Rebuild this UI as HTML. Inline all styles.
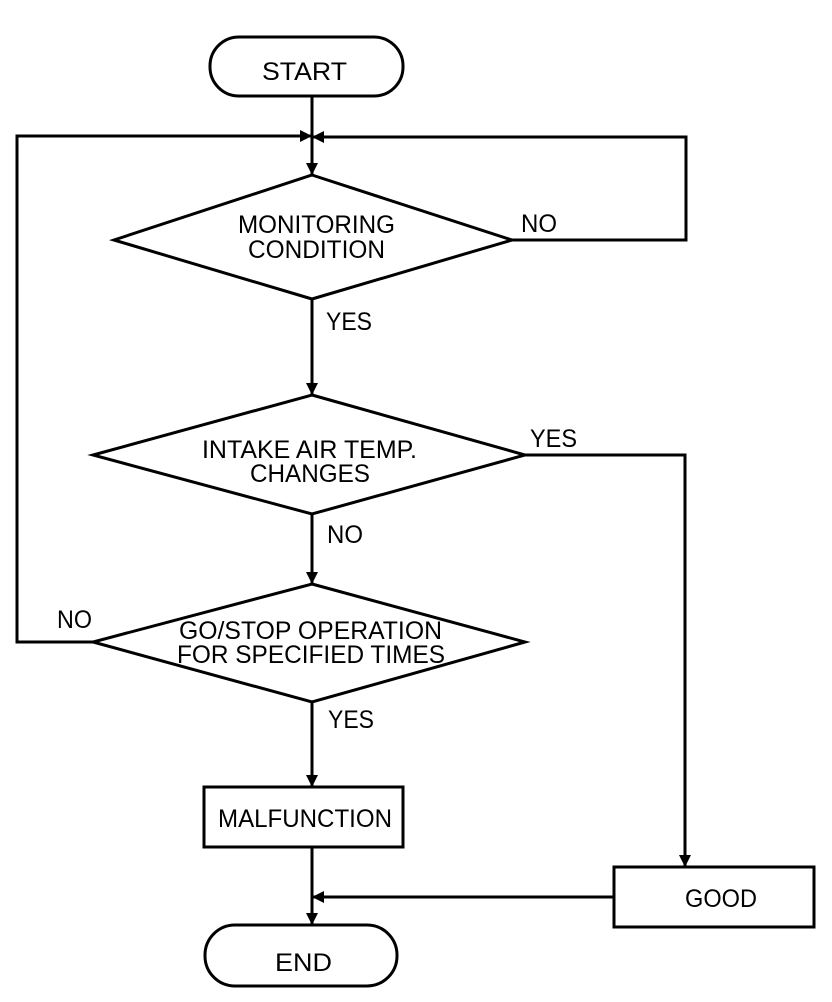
<!DOCTYPE html>
<html><head><meta charset="utf-8"><style>body{margin:0;background:#fff}svg{display:block}text{font-family:"Liberation Sans",sans-serif;font-size:25px;fill:#000}</style></head>
<body>
<svg width="832" height="1002" viewBox="0 0 832 1002">
<defs><marker id="a" markerWidth="12" markerHeight="12" refX="11" refY="6" orient="auto" markerUnits="userSpaceOnUse"><path d="M0,0 L12,6 L0,12 Z" fill="#000"/></marker></defs>
<g fill="none" stroke="#000" stroke-width="3">
<rect x="210" y="37" width="193" height="59" rx="29"/>
<rect x="205" y="925" width="192" height="61" rx="30"/>
<rect x="204" y="787" width="199" height="60"/>
<rect x="614" y="867" width="200" height="60"/>
<polygon points="312,175 512,240 312,299 114,240"/>
<polygon points="312,395 525,455 312,514 93,455"/>
<polygon points="312,584 525,642 312,702 93,642"/>
<line x1="312" y1="96" x2="312" y2="174" marker-end="url(#a)"/>
<polyline points="93,642 17,642 17,136 311,136" marker-end="url(#a)"/>
<polyline points="512,240 686,240 686,137 313,137" marker-end="url(#a)"/>
<line x1="312" y1="299" x2="312" y2="394" marker-end="url(#a)"/>
<line x1="312" y1="514" x2="312" y2="583" marker-end="url(#a)"/>
<line x1="312" y1="702" x2="312" y2="786" marker-end="url(#a)"/>
<polyline points="525,455 685,455 685,866" marker-end="url(#a)"/>
<line x1="312" y1="847" x2="312" y2="924" marker-end="url(#a)"/>
<line x1="614" y1="897" x2="313" y2="897" marker-end="url(#a)"/>
</g>
<text x="262" y="80" textLength="85" lengthAdjust="spacingAndGlyphs">START</text>
<text x="275" y="971" textLength="57" lengthAdjust="spacingAndGlyphs">END</text>
<text x="218" y="827" textLength="174" lengthAdjust="spacingAndGlyphs">MALFUNCTION</text>
<text x="685" y="907" textLength="72" lengthAdjust="spacingAndGlyphs">GOOD</text>
<text x="238" y="233" textLength="157" lengthAdjust="spacingAndGlyphs">MONITORING</text>
<text x="248" y="258" textLength="137" lengthAdjust="spacingAndGlyphs">CONDITION</text>
<text x="202" y="458" textLength="215" lengthAdjust="spacingAndGlyphs">INTAKE AIR TEMP.</text>
<text x="250" y="482" textLength="120" lengthAdjust="spacingAndGlyphs">CHANGES</text>
<text x="179" y="639" textLength="263" lengthAdjust="spacingAndGlyphs">GO/STOP OPERATION</text>
<text x="177" y="663" textLength="268" lengthAdjust="spacingAndGlyphs">FOR SPECIFIED TIMES</text>
<text x="521" y="232" textLength="36" lengthAdjust="spacingAndGlyphs">NO</text>
<text x="326" y="330" textLength="46" lengthAdjust="spacingAndGlyphs">YES</text>
<text x="530" y="447" textLength="47" lengthAdjust="spacingAndGlyphs">YES</text>
<text x="327" y="543" textLength="36" lengthAdjust="spacingAndGlyphs">NO</text>
<text x="57" y="628" textLength="35" lengthAdjust="spacingAndGlyphs">NO</text>
<text x="328" y="728" textLength="46" lengthAdjust="spacingAndGlyphs">YES</text>
</svg>
</body></html>
